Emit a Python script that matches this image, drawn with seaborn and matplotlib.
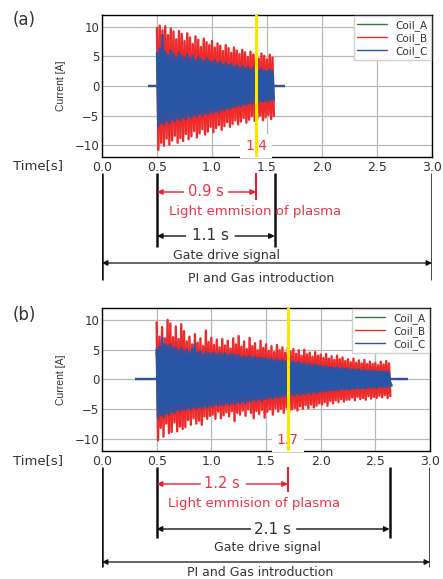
import numpy as np
import pandas as pd
import matplotlib
matplotlib.use("Agg")
import matplotlib.pyplot as plt
import seaborn as sns

sns.set_theme(style="whitegrid")
plt.rcParams["font.family"] = ["DejaVu Sans"]

# ---------------- data ----------------
COILS = ["Coil_A", "Coil_B", "Coil_C"]
COLORS = {"Coil_A": "#2e7d32", "Coil_B": "#ee2a2a", "Coil_C": "#2855a5"}
X_TICKS = [0.0, 0.5, 1.0, 1.5, 2.0, 2.5, 3.0]
Y_TICKS = [-10, -5, 0, 5, 10]

# panel (a): envelope samples (peak / trough) every 0.025 s from 0.5 s
A_START, A_STEP = 0.500, 0.025
A_RED_UP = [9.8, 10.2, 9.4, 10.1, 8.6, 9.7, 9.2, 7.9, 9.3, 8.8,
            7.6, 8.9, 8.2, 7.1, 8.4, 7.8, 6.6, 8.0, 7.4, 6.9,
            7.6, 6.5, 7.2, 6.8, 5.9, 6.9, 6.4, 5.6, 6.5, 6.0,
            5.4, 6.1, 5.7, 4.9, 5.8, 5.3, 5.6, 4.6, 5.5, 5.1,
            4.5, 5.3, 4.8]
A_RED_LO = [-10.8, -9.6, -10.1, -8.9, -9.9, -9.2, -8.4, -9.6, -8.8, -9.3,
            -8.1, -9.0, -8.5, -7.6, -8.7, -8.0, -7.3, -8.2, -7.7, -6.9,
            -7.8, -7.1, -6.6, -7.4, -6.8, -6.1, -6.9, -6.4, -5.8, -6.5,
            -6.0, -5.4, -6.2, -5.7, -5.1, -5.9, -5.5, -5.0, -5.8, -5.3,
            -4.9, -5.6, -5.1]
A_BLUE_UP = [5.6, 6.4, 8.6, 5.8, 5.2, 6.0, 5.4, 4.9, 5.6, 5.1,
             4.8, 5.3, 4.7, 5.0, 4.4, 4.9, 4.5, 4.2, 4.7, 4.3,
             4.0, 4.4, 3.9, 4.1, 3.6, 3.9, 3.5, 3.7, 3.3, 3.5,
             3.1, 3.4, 3.0, 3.2, 2.8, 3.1, 2.9, 2.7, 3.0, 2.6,
             2.5, 2.8, 2.5]
A_BLUE_LO = [-6.8, -6.2, -6.5, -5.9, -6.3, -5.7, -6.0, -5.5, -5.8, -5.3,
             -5.6, -5.1, -5.4, -4.9, -5.2, -4.7, -5.0, -4.6, -4.8, -4.4,
             -4.6, -4.2, -4.4, -4.0, -4.1, -3.7, -3.9, -3.5, -3.6, -3.3,
             -3.4, -3.1, -3.2, -2.9, -3.0, -2.8, -2.9, -2.6, -2.7, -2.5,
             -2.6, -2.3, -2.4]
A_GREEN_START, A_GREEN_STEP = 0.50, 0.10
A_GREEN_UP = [4.6, 4.3, 4.0, 3.7, 3.4, 3.1, 2.9, 2.6, 2.4, 2.2, 2.0]
A_GREEN_LO = [-5.2, -4.8, -4.4, -4.1, -3.8, -3.4, -3.1, -2.8, -2.5, -2.2, -2.0]
A_BASE = [0.42, 1.66]
A_MARK = 1.4
A_GATE = [0.5, 1.57]
A_LABELS = ["1.4", "0.9 s", "1.1 s"]

# panel (b)
B_START, B_STEP = 0.500, 0.025
B_RED_UP = [9.6, 7.2, 8.8, 6.9, 10.0, 9.4, 7.1, 8.9, 6.8, 9.3,
            8.1, 6.4, 7.2, 5.9, 7.6, 6.2, 6.9, 5.6, 8.2, 6.3,
            7.0, 5.8, 6.7, 5.4, 6.8, 5.7, 6.5, 5.2, 6.9, 5.9,
            7.3, 5.5, 6.4, 5.1, 7.0, 5.6, 6.1, 4.9, 6.5, 5.3,
            5.9, 4.8, 5.6, 4.6, 5.8, 4.9, 5.4, 4.5, 5.5, 4.7,
            5.1, 4.3, 4.9, 4.0, 5.0, 4.2, 4.5, 3.8, 4.6, 4.0,
            4.2, 3.6, 4.3, 3.5, 3.9, 3.3, 4.0, 3.4, 3.7, 3.1,
            3.4, 2.9, 3.5, 2.8, 3.2, 2.7, 3.3, 2.6, 3.0, 2.6,
            2.8, 2.4, 3.0, 2.5, 3.1, 2.7]
B_RED_LO = [-10.2, -8.1, -9.6, -7.4, -9.0, -8.8, -7.2, -8.7, -7.9, -8.3,
            -8.0, -6.8, -7.6, -6.5, -7.4, -6.9, -7.6, -6.2, -6.6, -6.1,
            -5.9, -6.6, -5.4, -6.5, -6.0, -5.5, -6.2, -5.3, -7.0, -5.6,
            -5.9, -5.2, -6.1, -5.0, -5.6, -6.5, -5.3, -5.8, -5.1, -6.4,
            -5.4, -5.0, -5.9, -4.8, -5.4, -4.9, -5.6, -4.7, -5.4, -5.0,
            -4.8, -5.2, -4.5, -4.9, -4.3, -4.8, -4.2, -4.7, -4.4, -4.0,
            -4.2, -3.8, -4.4, -3.6, -4.0, -3.5, -3.8, -3.3, -3.7, -3.4,
            -3.4, -3.0, -3.5, -2.9, -3.3, -3.1, -3.4, -2.8, -3.2, -2.9,
            -3.1, -2.7, -3.0, -2.6, -3.1, -2.8]
B_BLUE_UP = [5.1, 5.5, 7.0, 5.9, 5.6, 5.9, 5.3, 5.4, 4.9, 5.3,
             4.8, 5.0, 4.6, 5.2, 5.9, 4.5, 4.7, 4.2, 4.6, 4.4,
             4.3, 4.5, 4.1, 4.5, 4.2, 4.4, 4.0, 4.3, 4.2, 4.0,
             4.1, 3.8, 3.9, 3.7, 4.0, 3.6, 3.8, 3.5, 3.7, 3.5,
             3.6, 3.3, 3.5, 3.2, 3.4, 3.1, 3.3, 3.0, 3.1, 2.9,
             3.0, 2.8, 2.9, 2.6, 2.8, 2.5, 2.6, 2.4, 2.5, 2.3,
             2.3, 2.1, 2.2, 2.0, 2.1, 1.9, 2.0, 1.8, 1.9, 1.8,
             1.8, 1.6, 1.7, 1.6, 1.7, 1.5, 1.6, 1.4, 1.5, 1.4,
             1.5, 1.3, 1.4, 1.3, 1.4, 1.2]
B_BLUE_LO = [-6.5, -6.0, -6.2, -5.7, -5.9, -5.4, -5.6, -5.1, -5.3, -5.0,
             -5.1, -4.8, -5.0, -4.7, -4.9, -4.6, -4.8, -4.5, -4.7, -4.4,
             -4.5, -4.2, -4.4, -4.1, -4.3, -4.0, -4.2, -3.9, -4.1, -3.8,
             -4.0, -3.7, -3.9, -3.6, -3.7, -3.4, -3.6, -3.3, -3.5, -3.2,
             -3.3, -3.0, -3.2, -2.9, -3.0, -2.8, -2.9, -2.6, -2.8, -2.5,
             -2.7, -2.4, -2.6, -2.3, -2.5, -2.2, -2.4, -2.1, -2.3, -2.0,
             -2.1, -1.9, -2.0, -1.8, -1.9, -1.7, -1.8, -1.6, -1.7, -1.6,
             -1.7, -1.5, -1.6, -1.4, -1.5, -1.4, -1.5, -1.3, -1.4, -1.3,
             -1.4, -1.2, -1.3, -1.2, -1.3, -1.1]
B_GREEN_START, B_GREEN_STEP = 0.50, 0.10
B_GREEN_UP = [4.6, 4.4, 4.1, 3.8, 3.6, 3.3, 3.1, 2.9, 2.7, 2.5, 2.3,
              2.1, 1.9, 1.8, 1.6, 1.5, 1.4, 1.3, 1.2, 1.1, 1.0, 1.0]
B_GREEN_LO = [-5.4, -4.6, -4.2, -3.9, -3.6, -3.4, -3.2, -3.0, -2.8, -2.6, -2.4,
              -2.2, -2.0, -1.8, -1.7, -1.5, -1.4, -1.3, -1.2, -1.1, -1.0, -1.0]
B_BASE = [0.30, 2.80]
B_MARK = 1.7
B_GATE = [0.5, 2.63]
B_LABELS = ["1.7", "1.2 s", "2.1 s"]


def zigzag(start, step, up, lo):
    n = len(up)
    t = start + step * np.arange(n)
    x = np.column_stack([t, t + step / 2]).ravel()
    y = np.column_stack([up, lo]).ravel()
    return x, y


def build_df(green, red, blue):
    frames = []
    for coil, (start, step, up, lo) in zip(COILS, [green, red, blue]):
        x, y = zigzag(start, step, up, lo)
        frames.append(pd.DataFrame({"time": x, "current": y, "coil": coil}))
    return pd.concat(frames, ignore_index=True)


TXT = "#333333"
RED_TXT = "#ee3344"

fig = plt.figure(figsize=(4.43, 5.79), dpi=100)
W, H = 443.0, 579.0


def rect(l, t, r, b):
    return [l / W, 1 - b / H, (r - l) / W, (b - t) / H]


def draw_panel(ax_px, ann_px, df, base, mark, gate, labels, tag, ylay):
    ax = fig.add_axes(rect(*ax_px))
    ax.set_facecolor("white")
    # baselines before and after the pulse
    for c in ["Coil_B", "Coil_C"]:
        ax.hlines(0, base[0], gate[0], color=COLORS[c], lw=1.6, zorder=2)
        ax.hlines(0, gate[1] - 0.01, base[1], color=COLORS[c], lw=1.6, zorder=2)
    sns.lineplot(data=df, x="time", y="current", hue="coil", hue_order=COILS,
                 palette=COLORS, sort=False, estimator=None, linewidth=1.7,
                 ax=ax, zorder=2)
    ax.axvline(mark, color="#ffe600", lw=2.2, zorder=5)
    ax.text(mark, -10.1, labels[0], ha="center", va="center", fontsize=10,
            color=RED_TXT, zorder=4,
            bbox=dict(boxstyle="square,pad=0.35", fc="white", ec="none"))
    ax.set_xlim(0, 3)
    ax.set_ylim(-12, 12)
    ax.set_xticks(X_TICKS)
    ax.set_xticklabels([f"{v:.1f}" for v in X_TICKS])
    ax.set_yticks(Y_TICKS)
    ax.set_yticklabels([str(v).replace("-", "\u2212") for v in Y_TICKS])
    ax.tick_params(axis="both", direction="in", length=3, width=0.8,
                   colors="black", labelcolor=TXT, labelsize=8.5, pad=2)
    ax.tick_params(axis="x", labelsize=9, pad=3)
    ax.tick_params(left=False)
    ax.grid(True, color="#b8b8b8", lw=0.9)
    for s in ax.spines.values():
        s.set_color("black")
        s.set_linewidth(1.0)
    ax.set_xlabel("")
    ax.set_ylabel("Current [A]", fontsize=7.5, family="Liberation Sans",
                  color=TXT, labelpad=6)
    handles, lbls = ax.get_legend_handles_labels()
    leg = ax.legend(handles, lbls, loc="upper right", fontsize=7.5,
                    frameon=True, framealpha=1, edgecolor="#d0d0d0",
                    borderaxespad=0.1, handlelength=2.8, handletextpad=0.8,
                    labelspacing=0.2, borderpad=0.35, fancybox=False)
    for t in leg.get_texts():
        t.set_color(TXT)
    for l in leg.get_lines():
        l.set_linewidth(1.0)

    # timeline annotation axes (x in seconds, y in figure pixels)
    an = fig.add_axes(rect(*ann_px))
    an.set_xlim(0, 3)
    an.set_ylim(ann_px[3], ann_px[1])
    an.axis("off")
    y = ylay
    blk = "#111111"
    an.vlines([0.0, 3.0], y["top"], y["pi_end"], color=blk, lw=1.8)
    an.vlines(gate, y["top"], y["gate_end"], color=blk, lw=1.8)
    an.vlines([mark], y["top"], y["red_end"], color="#ee2030", lw=1.5)
    ap = dict(arrowstyle="-|>", lw=1.0, mutation_scale=8, shrinkA=0, shrinkB=0)
    an.annotate("", xy=(gate[0], y["red"]), xytext=(y["red_gap"][0], y["red"]),
                arrowprops=dict(ap, color="#ee2030"))
    an.annotate("", xy=(mark, y["red"]), xytext=(y["red_gap"][1], y["red"]),
                arrowprops=dict(ap, color="#ee2030"))
    an.text(y["red_txt_x"], y["red"], labels[1], ha="center", va="center",
            fontsize=10.5, color=RED_TXT)
    an.text(1.39, y["light"], "Light emmision of plasma", ha="center",
            va="center", fontsize=9.5, color=RED_TXT)
    an.annotate("", xy=(gate[0], y["gate"]), xytext=(y["gate_gap"][0], y["gate"]),
                arrowprops=dict(ap, color=blk))
    an.annotate("", xy=(gate[1], y["gate"]), xytext=(y["gate_gap"][1], y["gate"]),
                arrowprops=dict(ap, color=blk))
    an.text(y["gate_txt_x"], y["gate"], labels[2], ha="center", va="center",
            fontsize=11, color=TXT)
    an.text(y["gds_x"], y["gds"], "Gate drive signal", ha="center",
            va="center", fontsize=9, color=TXT)
    an.annotate("", xy=(0.0, y["pi"]), xytext=(3.0, y["pi"]),
                arrowprops=dict(arrowstyle="<|-|>", lw=0.9, mutation_scale=8,
                                shrinkA=0, shrinkB=0, color=blk))
    an.text(1.45, y["pi_txt"], "PI and Gas introduction", ha="center",
            va="center", fontsize=9, color=TXT)

    fig.text(13 / W, 1 - y["time"] / H, "Time[s]", ha="left", va="center",
             fontsize=9.5, color=TXT)
    fig.text(13 / W, 1 - y["tag"] / H, tag, ha="left", va="center",
             fontsize=12, color=TXT)


df_a = build_df((A_GREEN_START, A_GREEN_STEP, A_GREEN_UP, A_GREEN_LO),
                (A_START, A_STEP, A_RED_UP, A_RED_LO),
                (A_START, A_STEP, A_BLUE_UP, A_BLUE_LO))
df_b = build_df((B_GREEN_START, B_GREEN_STEP, B_GREEN_UP, B_GREEN_LO),
                (B_START, B_STEP, B_RED_UP, B_RED_LO),
                (B_START, B_STEP, B_BLUE_UP, B_BLUE_LO))

lay_a = dict(top=173, pi_end=280, gate_end=247, red_end=200, red=192,
             red_gap=(0.74, 1.15), red_txt_x=0.94, light=212, gate=236,
             gate_gap=(0.76, 1.21), gate_txt_x=0.99, gds=256, gds_x=1.13,
             pi=263, pi_txt=278, time=166, tag=20)
lay_b = dict(top=467, pi_end=567, gate_end=538, red_end=492, red=484,
             red_gap=(0.90, 1.32), red_txt_x=1.10, light=504, gate=529,
             gate_gap=(1.36, 1.78), gate_txt_x=1.56, gds=548, gds_x=1.51,
             pi=562, pi_txt=573, time=461, tag=315)

draw_panel((102, 15, 432, 157), (102, 158, 432, 290), df_a, A_BASE, A_MARK,
           A_GATE, A_LABELS, "(a)", lay_a)
draw_panel((102, 308, 430, 451), (102, 452, 430, 579), df_b, B_BASE, B_MARK,
           B_GATE, B_LABELS, "(b)", lay_b)

fig.savefig("out.png", dpi=100)
